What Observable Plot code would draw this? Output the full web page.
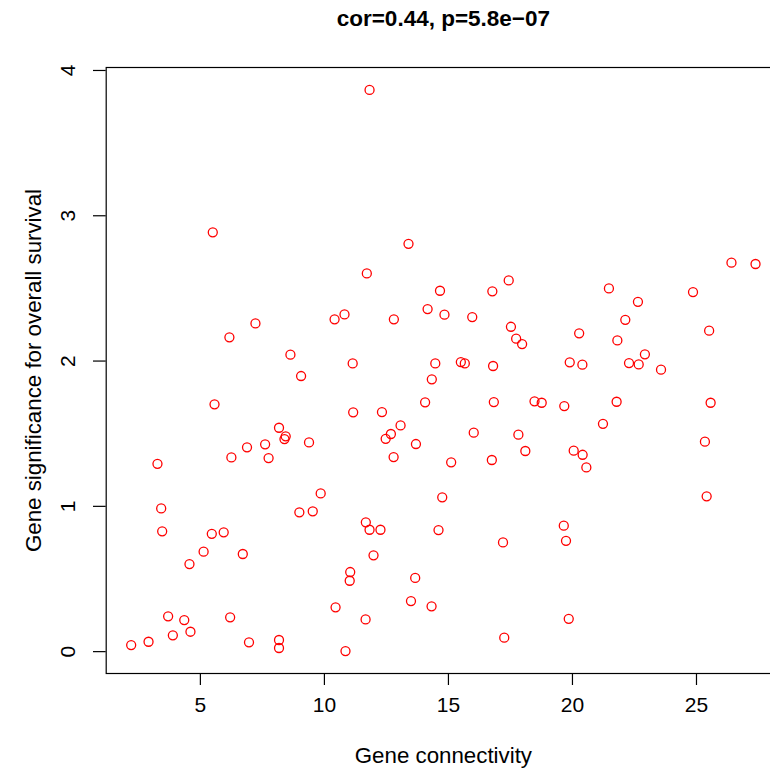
<!DOCTYPE html>
<html>
<head>
<meta charset="utf-8">
<script src="https://cdn.jsdelivr.net/npm/d3@7"></script>
<script src="https://cdn.jsdelivr.net/npm/@observablehq/plot@0.6"></script>
<style>
  html, body { margin: 0; padding: 0; background: #fff; overflow: hidden; }
  #chart { width: 770px; height: 770px; overflow: hidden; position: relative; }
  #chart svg { display: block; overflow: hidden; }
</style>
</head>
<body>
<div id="chart"></div>
<script>
const titleText = "cor=0.44, p=5.8e\u221207";
const xLabel = "Gene connectivity";
const yLabel = "Gene significance for overall survival";
const xTicks = [5, 10, 15, 20, 25];
const yTicks = [0, 1, 2, 3, 4];

// Gene connectivity (x) and gene significance (y)
const connectivity = [
  11.82, 5.50, 13.39, 11.71, 14.16, 10.81, 10.41, 12.80, 7.22, 6.17, 8.63, 11.14,
  26.41, 27.38, 17.43, 14.66, 16.77, 21.47, 24.86, 22.64, 14.84, 15.96, 22.13, 17.52,
  25.51, 20.27, 17.73, 17.97, 21.81, 22.92, 14.47, 15.50, 15.66, 16.80, 19.89, 20.40,
  22.28, 22.67, 23.57,
  14.33, 14.06, 16.83, 18.47, 18.76, 19.67, 21.78, 25.57, 21.23, 16.02, 17.82, 25.34,
  18.10, 20.05, 20.41, 20.56, 15.11, 16.75, 14.75, 25.41, 19.65, 19.74, 14.60, 17.20,
  14.32, 19.85, 17.25,
  9.06, 5.57, 11.16, 12.32, 8.17, 13.07, 8.44, 8.39, 12.68, 12.47, 9.38, 13.69,
  7.61, 6.88, 6.25, 7.75, 12.79, 3.27, 9.85, 3.42, 8.99, 9.53, 11.67, 11.82,
  12.26, 3.46, 5.46, 5.94, 5.13, 6.71, 11.98, 4.56, 11.04, 11.02, 13.66, 13.49,
  10.45, 11.66, 3.70, 4.35, 6.20, 3.89, 4.60, 2.21, 2.91, 6.96, 8.17, 8.17, 10.85
];
const significance = [
  3.866, 2.886, 2.807, 2.603, 2.358, 2.321, 2.287, 2.287, 2.259, 2.163, 2.044, 1.984,
  2.677, 2.668, 2.555, 2.484, 2.480, 2.500, 2.475, 2.408, 2.319, 2.303, 2.284, 2.236,
  2.209, 2.191, 2.154, 2.117, 2.142, 2.046, 1.984, 1.993, 1.984, 1.966, 1.991, 1.975,
  1.986, 1.977, 1.941,
  1.874, 1.716, 1.718, 1.723, 1.713, 1.690, 1.720, 1.713, 1.568, 1.507, 1.493, 1.445,
  1.381, 1.383, 1.355, 1.268, 1.303, 1.319, 1.062, 1.069, 0.867, 0.763, 0.837, 0.752,
  0.312, 0.226, 0.096,
  1.897, 1.702, 1.647, 1.649, 1.541, 1.557, 1.482, 1.463, 1.498, 1.465, 1.440, 1.429,
  1.427, 1.406, 1.337, 1.332, 1.339, 1.293, 1.089, 0.986, 0.959, 0.966, 0.890, 0.839,
  0.839, 0.828, 0.811, 0.821, 0.688, 0.672, 0.663, 0.603, 0.548, 0.488, 0.507, 0.348,
  0.305, 0.222, 0.243, 0.217, 0.236, 0.112, 0.137, 0.045, 0.068, 0.064, 0.080, 0.025, 0.004
];

const points = connectivity.map((x, i) => ({x, y: significance[i]}));

// R-style 4% axis extension
const xExt = d3.extent(connectivity), yExt = d3.extent(significance);
const xPad = (xExt[1] - xExt[0]) * 0.04, yPad = (yExt[1] - yExt[0]) * 0.04;

const font = "'Liberation Sans', Arial, Helvetica, sans-serif";

const chart = Plot.plot({
  width: 770,
  height: 770,
  marginLeft: 105.7,
  marginRight: -10,
  marginTop: 67,
  marginBottom: 97,
  style: {fontFamily: font, color: "#000", background: "#fff", overflow: "hidden"},
  x: {domain: [xExt[0] - xPad, xExt[1] + xPad]},
  y: {domain: [yExt[0] - yPad, yExt[1] + yPad]},
  marks: [
    Plot.frame({stroke: "#000", strokeWidth: 1.2}),
    Plot.axisX({ticks: xTicks, tickSize: 12, tickPadding: 12, fontSize: 21, label: null, stroke: "#000", strokeWidth: 1.2}),
    Plot.axisY({ticks: yTicks, tickSize: 12.7, tickFormat: () => "", label: null, stroke: "#000", strokeWidth: 1.2}),
    Plot.text(yTicks, {y: d => d, text: d => String(d), frameAnchor: "left", dx: -37.7,
      rotate: -90, textAnchor: "middle", lineAnchor: "middle", fontSize: 21, fill: "#000"}),
    Plot.dot(points, {x: "x", y: "y", r: 4.5, stroke: "#ff0000", strokeWidth: 1.3, fill: "none"}),
    Plot.text([titleText], {frameAnchor: "top", dy: -49, lineAnchor: "middle", textAnchor: "middle",
      fontSize: 22.5, fontWeight: "bold", fill: "#000"}),
    Plot.text([xLabel], {frameAnchor: "bottom", dy: 82, lineAnchor: "middle", textAnchor: "middle",
      fontSize: 22.3, fill: "#000"}),
    Plot.text([yLabel], {frameAnchor: "left", dx: -72.7, rotate: -90, lineAnchor: "middle", textAnchor: "middle",
      fontSize: 22.3, fill: "#000"})
  ]
});
document.getElementById("chart").appendChild(chart);
</script>
</body>
</html>
